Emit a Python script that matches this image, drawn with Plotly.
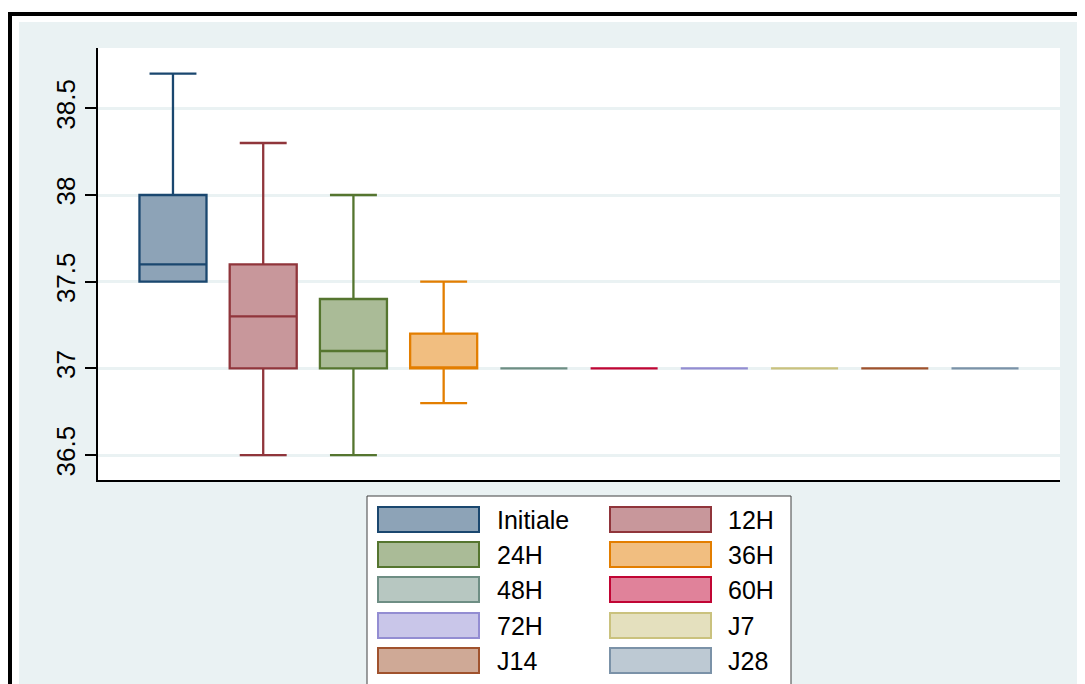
import plotly.graph_objects as go

categories = ["Initiale", "12H", "24H", "36H", "48H", "60H", "72H", "J7", "J14", "J28"]
lower = [37.5, 36.5, 36.5, 36.8, 37.0, 37.0, 37.0, 37.0, 37.0, 37.0]
q1 = [37.5, 37.0, 37.0, 37.0, 37.0, 37.0, 37.0, 37.0, 37.0, 37.0]
median = [37.6, 37.3, 37.1, 37.0, 37.0, 37.0, 37.0, 37.0, 37.0, 37.0]
q3 = [38.0, 37.6, 37.4, 37.2, 37.0, 37.0, 37.0, 37.0, 37.0, 37.0]
upper = [38.7, 38.3, 38.0, 37.5, 37.0, 37.0, 37.0, 37.0, 37.0, 37.0]
y_ticks = [36.5, 37, 37.5, 38, 38.5]
y_tick_labels = ["36.5", "37", "37.5", "38", "38.5"]

line_colors = ["#1a476f", "#90353b", "#55752f", "#e37e00", "#6e8e84",
               "#c10534", "#938dd2", "#cac27e", "#a0522d", "#7b92a8"]
fill_colors = ["#8da3b7", "#c8979b", "#aabb97", "#f1be80", "#b7c7c1",
               "#e0829a", "#c9c6e9", "#e4e0be", "#cfa996", "#bdc9d3"]

OFF = 8  # default page body margin
W, H = 1085, 684
L, R, T, B = 98, 1060, 48, 480  # plot area in screen pixels
PW, PH = R - L, B - T

def px(x):
    return (x - L) / PW

def py(y):
    return (B - y) / PH

fig = go.Figure()
for i, name in enumerate(categories):
    fig.add_trace(go.Box(
        x=[i], q1=[q1[i]], median=[median[i]], q3=[q3[i]],
        lowerfence=[lower[i]], upperfence=[upper[i]],
        name=name, width=0.743, whiskerwidth=0.7,
        fillcolor=fill_colors[i],
        line=dict(color=line_colors[i], width=2.3),
        showlegend=False, hoverinfo="skip",
    ))

shapes = []
shapes.append(dict(type="rect", xref="paper", yref="paper", x0=px(-20), x1=px(W + 20), y0=py(-20), y1=py(22),
                   fillcolor="white", line=dict(width=0), layer="above"))
shapes.append(dict(type="rect", xref="paper", yref="paper", x0=px(-20), x1=px(19), y0=py(-20), y1=py(H + 20),
                   fillcolor="white", line=dict(width=0), layer="above"))
shapes.append(dict(type="rect", xref="paper", yref="paper", x0=px(8), x1=px(W + 20), y0=py(12), y1=py(16),
                   fillcolor="black", line=dict(width=0), layer="above"))
shapes.append(dict(type="rect", xref="paper", yref="paper", x0=px(8), x1=px(12), y0=py(12), y1=py(H + 20),
                   fillcolor="black", line=dict(width=0), layer="above"))
shapes.append(dict(type="rect", xref="paper", yref="paper", x0=px(367), x1=px(791), y0=py(496), y1=py(H + 20),
                   fillcolor="white", line=dict(color="#404040", width=1), layer="above"))

annotations = []
row_top = [507, 542, 577, 613, 648]
col_sym = [(378, 479), (610, 711)]
col_txt = [495, 726]
for i, name in enumerate(categories):
    r, c = divmod(i, 2)
    y0 = row_top[r]
    y1 = y0 + 25
    shapes.append(dict(type="rect", xref="paper", yref="paper",
                       x0=px(col_sym[c][0]), x1=px(col_sym[c][1]), y0=py(y0), y1=py(y1),
                       fillcolor=fill_colors[i], line=dict(color=line_colors[i], width=2), layer="above"))
    annotations.append(dict(xref="paper", yref="paper", x=px(col_txt[c]), y=py((y0 + y1) / 2),
                            text=name, showarrow=False, xanchor="left", yanchor="middle",
                            font=dict(family="Liberation Sans, Arial", size=25, color="black")))

fig.update_layout(
    width=W - OFF, height=H - OFF,
    margin=dict(l=L - OFF, r=W - R, t=T - OFF, b=H - B, pad=0),
    paper_bgcolor="#eaf2f3",
    plot_bgcolor="white",
    boxmode="overlay",
    shapes=shapes,
    annotations=annotations,
    font=dict(family="Liberation Sans, Arial", color="black"),
    xaxis=dict(range=[-0.831, 9.831], showticklabels=False, ticks="", showgrid=False,
               zeroline=False, showline=True, linecolor="black", linewidth=1.5),
    yaxis=dict(range=[36.356, 38.848], tickvals=y_ticks, ticktext=y_tick_labels,
               tickangle=-90, tickfont=dict(size=26, family="Liberation Sans, Arial"),
               ticks="outside", ticklen=11, tickwidth=1.5, tickcolor="black",
               showgrid=True, gridcolor="#eaf2f3", gridwidth=2.5,
               zeroline=False, showline=True, linecolor="black", linewidth=1.5),
)

fig.write_html("out.html")
